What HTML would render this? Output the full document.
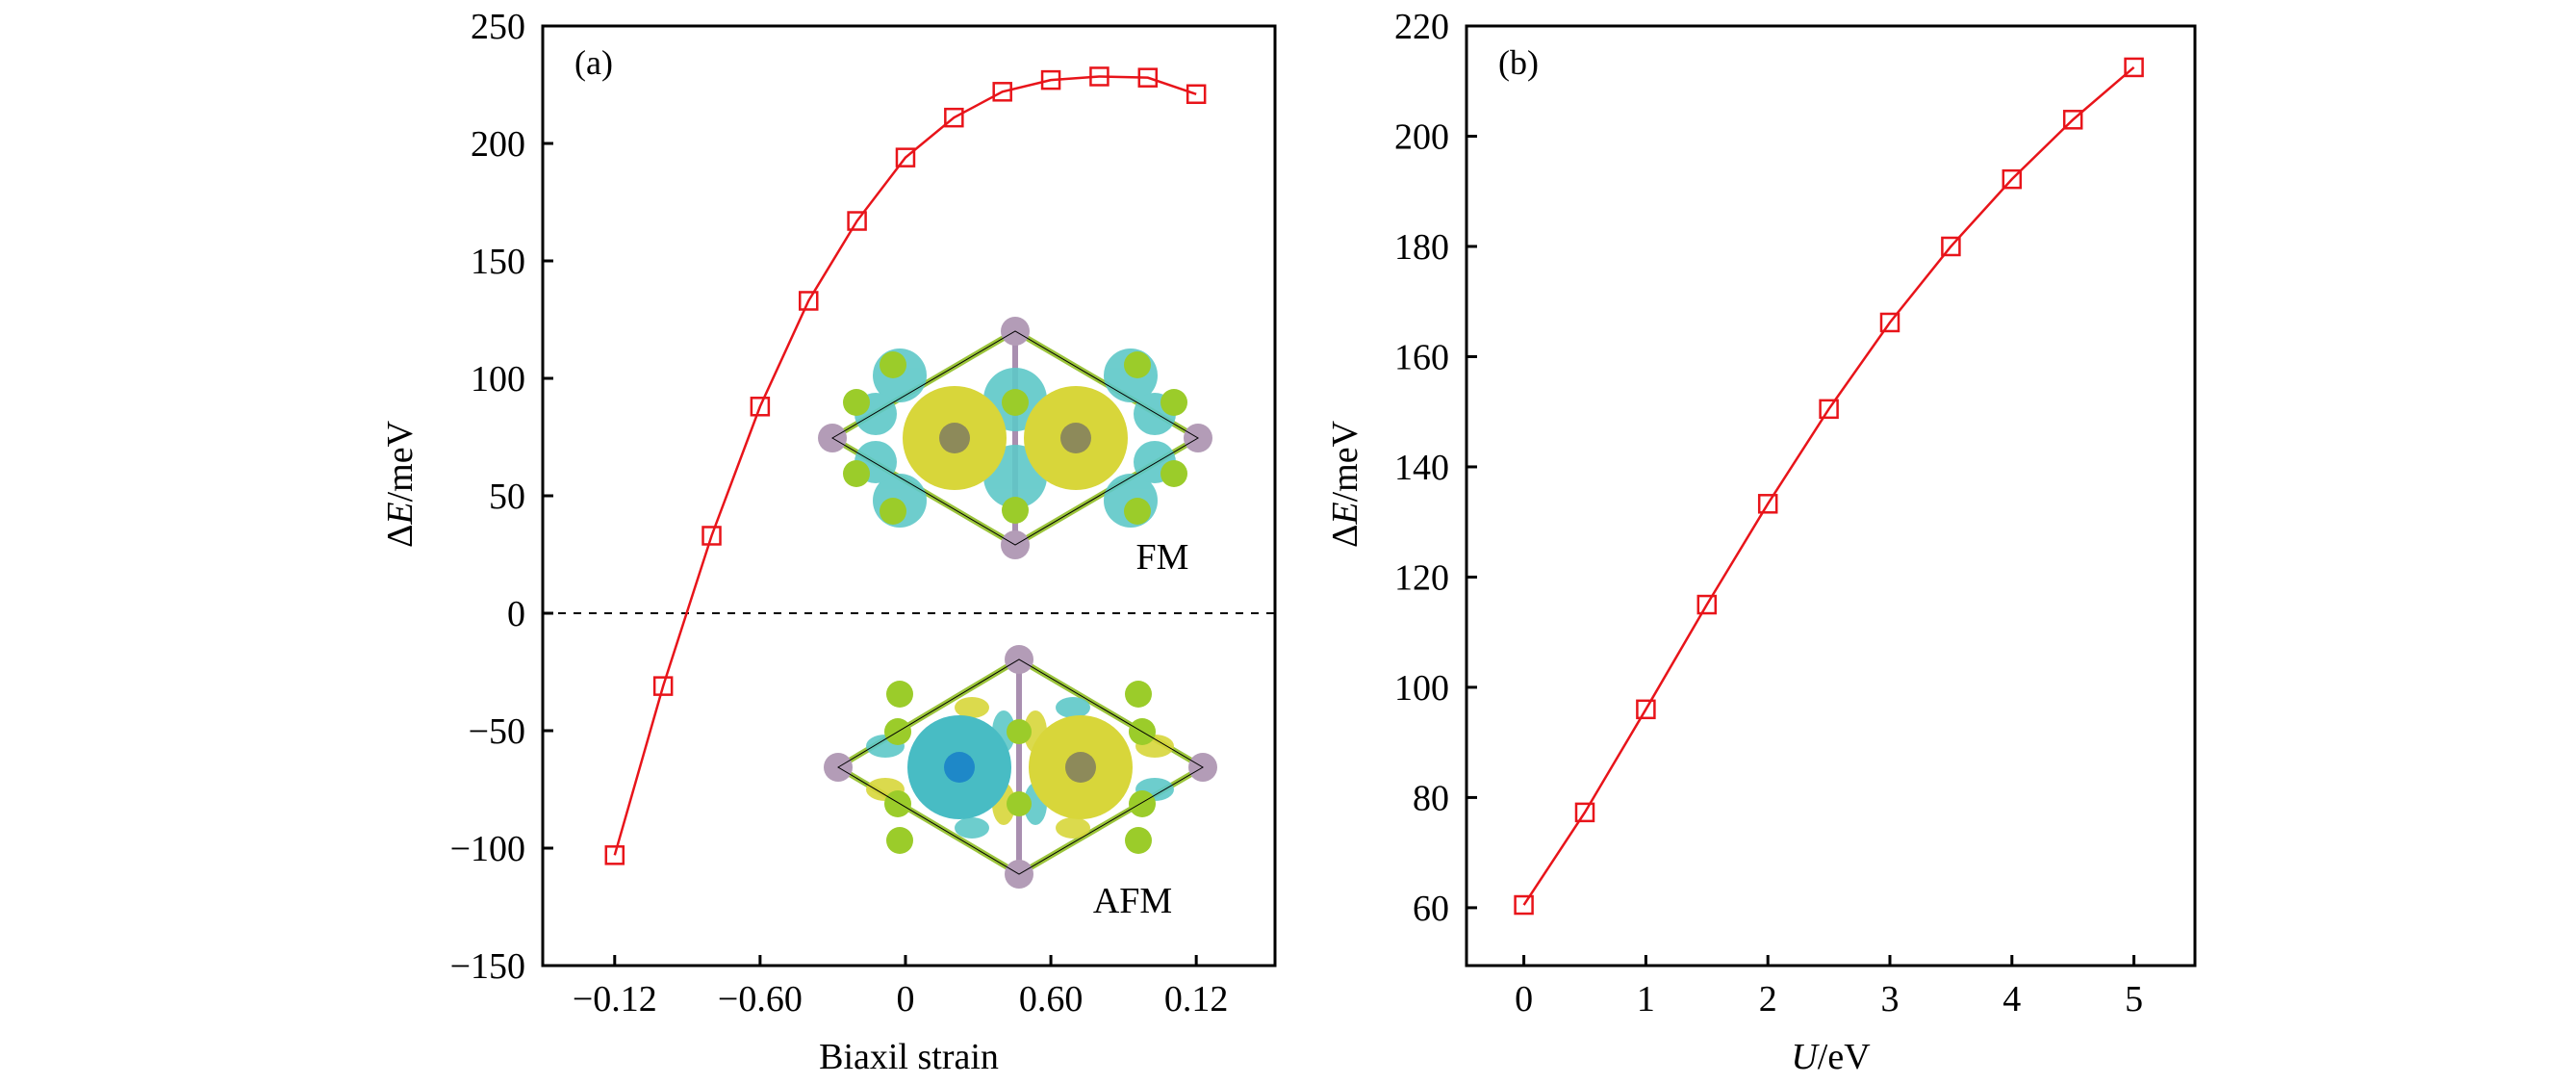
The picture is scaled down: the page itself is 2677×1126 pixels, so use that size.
<!DOCTYPE html>
<html><head><meta charset="utf-8"><style>
html,body{margin:0;padding:0;background:#fff;}
svg{display:block;font-family:"Liberation Serif",serif;}
</style></head><body>
<svg id="fig" width="2677" height="1126" viewBox="0 0 2677 1126" xmlns="http://www.w3.org/2000/svg">
<g id="insets">
 <g>
  <polygon points="865,455 1055,344 1245,455 1055,566" fill="none" stroke="#9bc43a" stroke-width="6"/>
  <line x1="1055" y1="344" x2="1055" y2="566" stroke="#a98fb0" stroke-width="6"/>
  <g fill="#5ec8c8" opacity="0.9">
   <circle cx="1055" cy="415" r="33"/><circle cx="1055" cy="495" r="33"/>
   <circle cx="935" cy="390" r="28"/><circle cx="935" cy="520" r="28"/>
   <circle cx="1175" cy="390" r="28"/><circle cx="1175" cy="520" r="28"/>
   <circle cx="910" cy="430" r="22"/><circle cx="910" cy="480" r="22"/>
   <circle cx="1200" cy="430" r="22"/><circle cx="1200" cy="480" r="22"/>
  </g>
  <circle cx="992" cy="455" r="54" fill="#d8d63a"/>
  <circle cx="1118" cy="455" r="54" fill="#d8d63a"/>
  <circle cx="992" cy="455" r="16" fill="#8d8a5a"/>
  <circle cx="1118" cy="455" r="16" fill="#8d8a5a"/>
  <g fill="#9bcc2a">
   <circle cx="1055" cy="418" r="14"/><circle cx="1055" cy="530" r="14"/>
   <circle cx="928" cy="379" r="14"/><circle cx="928" cy="531" r="14"/>
   <circle cx="1182" cy="379" r="14"/><circle cx="1182" cy="531" r="14"/>
   <circle cx="928" cy="418" r="0"/>
   <circle cx="890" cy="418" r="14"/><circle cx="890" cy="492" r="14"/>
   <circle cx="1220" cy="418" r="14"/><circle cx="1220" cy="492" r="14"/>
  </g>
  <g fill="#b39cb7"><circle cx="865" cy="455" r="15"/><circle cx="1245" cy="455" r="15"/><circle cx="1055" cy="344" r="15"/><circle cx="1055" cy="566" r="15"/></g>
  <polygon points="865,455 1055,344 1245,455 1055,566" fill="none" stroke="#000" stroke-width="1"/>
 </g>
 <g>
  <polygon points="871,797 1059,685 1250,797 1059,908" fill="none" stroke="#9bc43a" stroke-width="6"/>
  <line x1="1059" y1="685" x2="1059" y2="908" stroke="#a98fb0" stroke-width="6"/>
  <g opacity="0.9">
   <ellipse cx="1043" cy="760" rx="12" ry="22" fill="#5ec8c8"/><ellipse cx="1076" cy="760" rx="12" ry="22" fill="#d8d63a"/>
   <ellipse cx="1043" cy="835" rx="12" ry="22" fill="#d8d63a"/><ellipse cx="1076" cy="835" rx="12" ry="22" fill="#5ec8c8"/>
   <ellipse cx="920" cy="775" rx="20" ry="12" fill="#5ec8c8"/><ellipse cx="920" cy="820" rx="20" ry="12" fill="#d8d63a"/>
   <ellipse cx="1200" cy="775" rx="20" ry="12" fill="#d8d63a"/><ellipse cx="1200" cy="820" rx="20" ry="12" fill="#5ec8c8"/>
   <ellipse cx="1010" cy="735" rx="18" ry="11" fill="#d8d63a"/><ellipse cx="1010" cy="860" rx="18" ry="11" fill="#5ec8c8"/>
   <ellipse cx="1115" cy="735" rx="18" ry="11" fill="#5ec8c8"/><ellipse cx="1115" cy="860" rx="18" ry="11" fill="#d8d63a"/>
  </g>
  <circle cx="997" cy="797" r="54" fill="#48bcc4"/>
  <circle cx="1123" cy="797" r="54" fill="#d8d63a"/>
  <circle cx="997" cy="797" r="16" fill="#1e88c8"/>
  <circle cx="1123" cy="797" r="16" fill="#8d8a5a"/>
  <g fill="#9bcc2a">
   <circle cx="1059" cy="760" r="13"/><circle cx="1059" cy="835" r="13"/>
   <circle cx="935" cy="721" r="14"/><circle cx="935" cy="873" r="14"/>
   <circle cx="1183" cy="721" r="14"/><circle cx="1183" cy="873" r="14"/>
   <circle cx="933" cy="760" r="14"/><circle cx="933" cy="835" r="14"/>
   <circle cx="1187" cy="760" r="14"/><circle cx="1187" cy="835" r="14"/>
  </g>
  <g fill="#b39cb7"><circle cx="871" cy="797" r="15"/><circle cx="1250" cy="797" r="15"/><circle cx="1059" cy="685" r="15"/><circle cx="1059" cy="908" r="15"/></g>
  <polygon points="871,797 1059,685 1250,797 1059,908" fill="none" stroke="#000" stroke-width="1"/>
 </g>
 <text x="1208" y="591" font-size="38" text-anchor="middle">FM</text>
 <text x="1177" y="948" font-size="38" text-anchor="middle">AFM</text>
</g>
<g id="pa"></g>
<g id="pb"></g>
</svg>
<script>
const strainCats = [-0.12,-0.10,-0.08,-0.06,-0.04,-0.02,0,0.02,0.04,0.06,0.08,0.10,0.12];
const strainVals = [-103,-31,33,88,133,167,194,211,222,227,228.5,228,221];
const strainTickVals = [-0.12,-0.06,0,0.06,0.12];
const strainTickLabels = ["\u22120.12","\u22120.60","0","0.60","0.12"];
const aYTicks = [250,200,150,100,50,0,-50,-100,-150];
const uCats = [0,0.5,1,1.5,2,2.5,3,3.5,4,4.5,5];
const uVals = [60.5,77.3,96,115,133.3,150.5,166.2,180,192.2,203,212.5];
const uTickVals = [0,1,2,3,4,5];
const bYTicks = [220,200,180,160,140,120,100,80,60];
const NS="http://www.w3.org/2000/svg";
function mk(parent,tag,attrs){const e=document.createElementNS(NS,tag);for(const k in attrs)e.setAttribute(k,attrs[k]);parent.appendChild(e);return e;}
function panel(g,cfg){
  const L=cfg.L,R=cfg.R,T=27,B=1003;
  const sx=v=>L+(v-cfg.x0)/(cfg.x1-cfg.x0)*(R-L);
  const sy=v=>B-(v-cfg.y0)/(cfg.y1-cfg.y0)*(B-T);
  const frame=mk(g,'rect',{x:L,y:T,width:R-L,height:B-T,fill:'none',stroke:'#000','stroke-width':3});
  
  
  cfg.yt.forEach(v=>{
    const t=mk(g,'line',{x1:L,x2:L+11,y1:sy(v),y2:sy(v),stroke:'#000','stroke-width':3});
    
    
    const lb=mk(g,'text',{x:L-18,y:sy(v)+13,'font-size':38,'text-anchor':'end'});
    lb.textContent=v<0?'\u2212'+(-v):String(v);
    
    
  });
  cfg.xt.forEach((v,i)=>{
    const t=mk(g,'line',{x1:sx(v),x2:sx(v),y1:B,y2:B-11,stroke:'#000','stroke-width':3});
    
    
    const lb=mk(g,'text',{x:sx(v),y:1050,'font-size':38,'text-anchor':'middle'});
    lb.textContent=cfg.xl[i];
    
    
  });
  if(cfg.zero){
    const z=mk(g,'line',{x1:L,x2:R,y1:sy(0),y2:sy(0),stroke:'#000','stroke-width':2,'stroke-dasharray':'8,8'});
    
    
  }
  const pts=cfg.xs.map((x,i)=>sx(x)+','+sy(cfg.ys[i])).join(' ');
  const pl=mk(g,'polyline',{points:pts,fill:'none',stroke:'#e8141a','stroke-width':2.5});
  
  
  cfg.xs.forEach((x,i)=>{
    const m=mk(g,'rect',{x:sx(x)-9,y:sy(cfg.ys[i])-9,width:18,height:18,fill:'none',stroke:'#e8141a','stroke-width':2.5});
    
    
  });
  const pn=mk(g,'text',{x:L+33,y:77,'font-size':36});
  pn.textContent=cfg.tag;
  
  
  const xt=mk(g,'text',{x:(L+R)/2,y:1110,'font-size':38,'text-anchor':'middle'});
  xt.innerHTML=cfg.xtitle;
  
  
  const yt=mk(g,'text',{x:0,y:0,'font-size':38,'text-anchor':'middle',transform:'translate('+(cfg.ytx)+',503) rotate(-90)'});
  yt.innerHTML='\u0394<tspan font-style="italic">E</tspan>/meV';
  
  
}
panel(document.getElementById('pa'),{L:564,R:1325,x0:-0.1497,x1:0.1525,y0:-150,y1:250,yt:aYTicks,xt:strainTickVals,xl:strainTickLabels,xs:strainCats,ys:strainVals,zero:true,tag:'(a)',xtitle:'Biaxil strain',ytx:428});
panel(document.getElementById('pb'),{L:1524,R:2281,x0:-0.47,x1:5.5,y0:49.5,y1:220,yt:bYTicks,xt:uTickVals,xl:uTickVals.map(String),xs:uCats,ys:uVals,zero:false,tag:'(b)',xtitle:'<tspan font-style="italic">U</tspan>/eV',ytx:1410});
</script>
</body></html>
